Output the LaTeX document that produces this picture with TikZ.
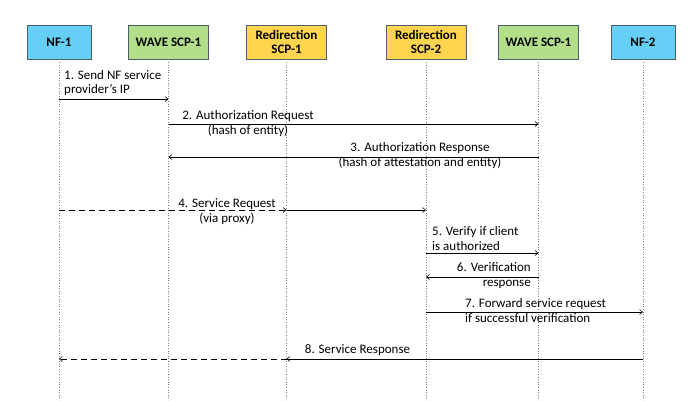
\documentclass[tikz,border=0pt]{standalone}
\usepackage{fontspec}
\setmainfont{Carlito}
\usetikzlibrary{arrows.meta}

\definecolor{nfblue}{HTML}{66CFF6}
\definecolor{wavegreen}{HTML}{B3DF8B}
\definecolor{rediryellow}{HTML}{FFD44F}
\definecolor{boxline}{HTML}{505C68}

\begin{document}
\begin{tikzpicture}[x=1pt, y=-1pt,
    actor/.style={draw=boxline, line width=0.8pt, minimum height=34pt, align=center,
        font=\fontsize{13}{14}\selectfont\bfseries, inner sep=1pt},
    lifeline/.style={draw=gray, dotted, line width=0.6pt},
    msg/.style={-{Straight Barb[length=3pt,width=5pt]}, line width=0.6pt},
    proxy/.style={msg, dash pattern=on 6pt off 4pt},
    lbl/.style={font=\fontsize{13}{15}\selectfont, inner sep=0pt}]
    \useasboundingbox (0,0) rectangle (696,400);
    \coordinate (bottom) at (0,400);

    % Participants
    \node (nf1) [actor, fill=nfblue, minimum width=64pt] at (59,42) {NF-1};
    \node (wave1) [actor, fill=wavegreen, minimum width=80pt] at (168.5,42) {WAVE SCP-1};
    \node (redir1) [actor, fill=rediryellow, minimum width=80pt] at (286.5,42) {Redirection\\SCP-1};
    \node (redir2) [actor, fill=rediryellow, minimum width=80pt] at (426,42) {Redirection\\SCP-2};
    \node (wave2) [actor, fill=wavegreen, minimum width=80pt] at (538.5,42) {WAVE SCP-1};
    \node (nf2) [actor, fill=nfblue, minimum width=64pt] at (643,42) {NF-2};

    % Lifelines
    \foreach \p in {nf1, wave1, redir1, redir2, wave2, nf2}
        \draw[lifeline] (\p.south) -- (\p |- bottom);

    % Messages
    \draw[msg] (nf1 |- 0,99) -- (wave1 |- 0,99);
    \draw[msg] (wave1 |- 0,124) -- (wave2 |- 0,124);
    \draw[msg] (wave2 |- 0,157) -- (wave1 |- 0,157);
    \draw[proxy] (nf1 |- 0,210) -- (redir1 |- 0,210);
    \draw[msg] (redir1 |- 0,210) -- (redir2 |- 0,210);
    \draw[msg] (redir2 |- 0,253) -- (wave2 |- 0,253);
    \draw[msg] (wave2 |- 0,277) -- (redir2 |- 0,277);
    \draw[msg] (redir2 |- 0,312) -- (nf2 |- 0,312);
    \draw[msg] (nf2 |- 0,359) -- (redir1 |- 0,359);
    \draw[proxy] (redir1 |- 0,359) -- (nf1 |- 0,359);

    % Labels
    \node (l1) [lbl, align=left, anchor=west, font=\fontsize{13}{14}\selectfont] at (64,83.5) {1. Send NF service\\provider’s IP};
    \node (l2) [lbl, align=center] at (248,123.5) {2. Authorization Request\\(hash of entity)};
    \node (l3) [lbl, align=center] at (420,155.5) {3. Authorization Response\\(hash of attestation and entity)};
    \node (l4) [lbl, align=center] at (227,211.5) {4. Service Request\\(via proxy)};
    \node (l5) [lbl, align=left, anchor=west] at (432,238.5) {5. Verify if client\\is authorized};
    \node (l6) [lbl, align=right, anchor=east] at (531,275.5) {6. Verification\\response};
    \node (l7) [lbl, align=left, anchor=west] at (465,310.5) {7. Forward service request\\if successful verification};
    \node (l8) [lbl] at (357.5,350) {8. Service Response};
\end{tikzpicture}
\end{document}
